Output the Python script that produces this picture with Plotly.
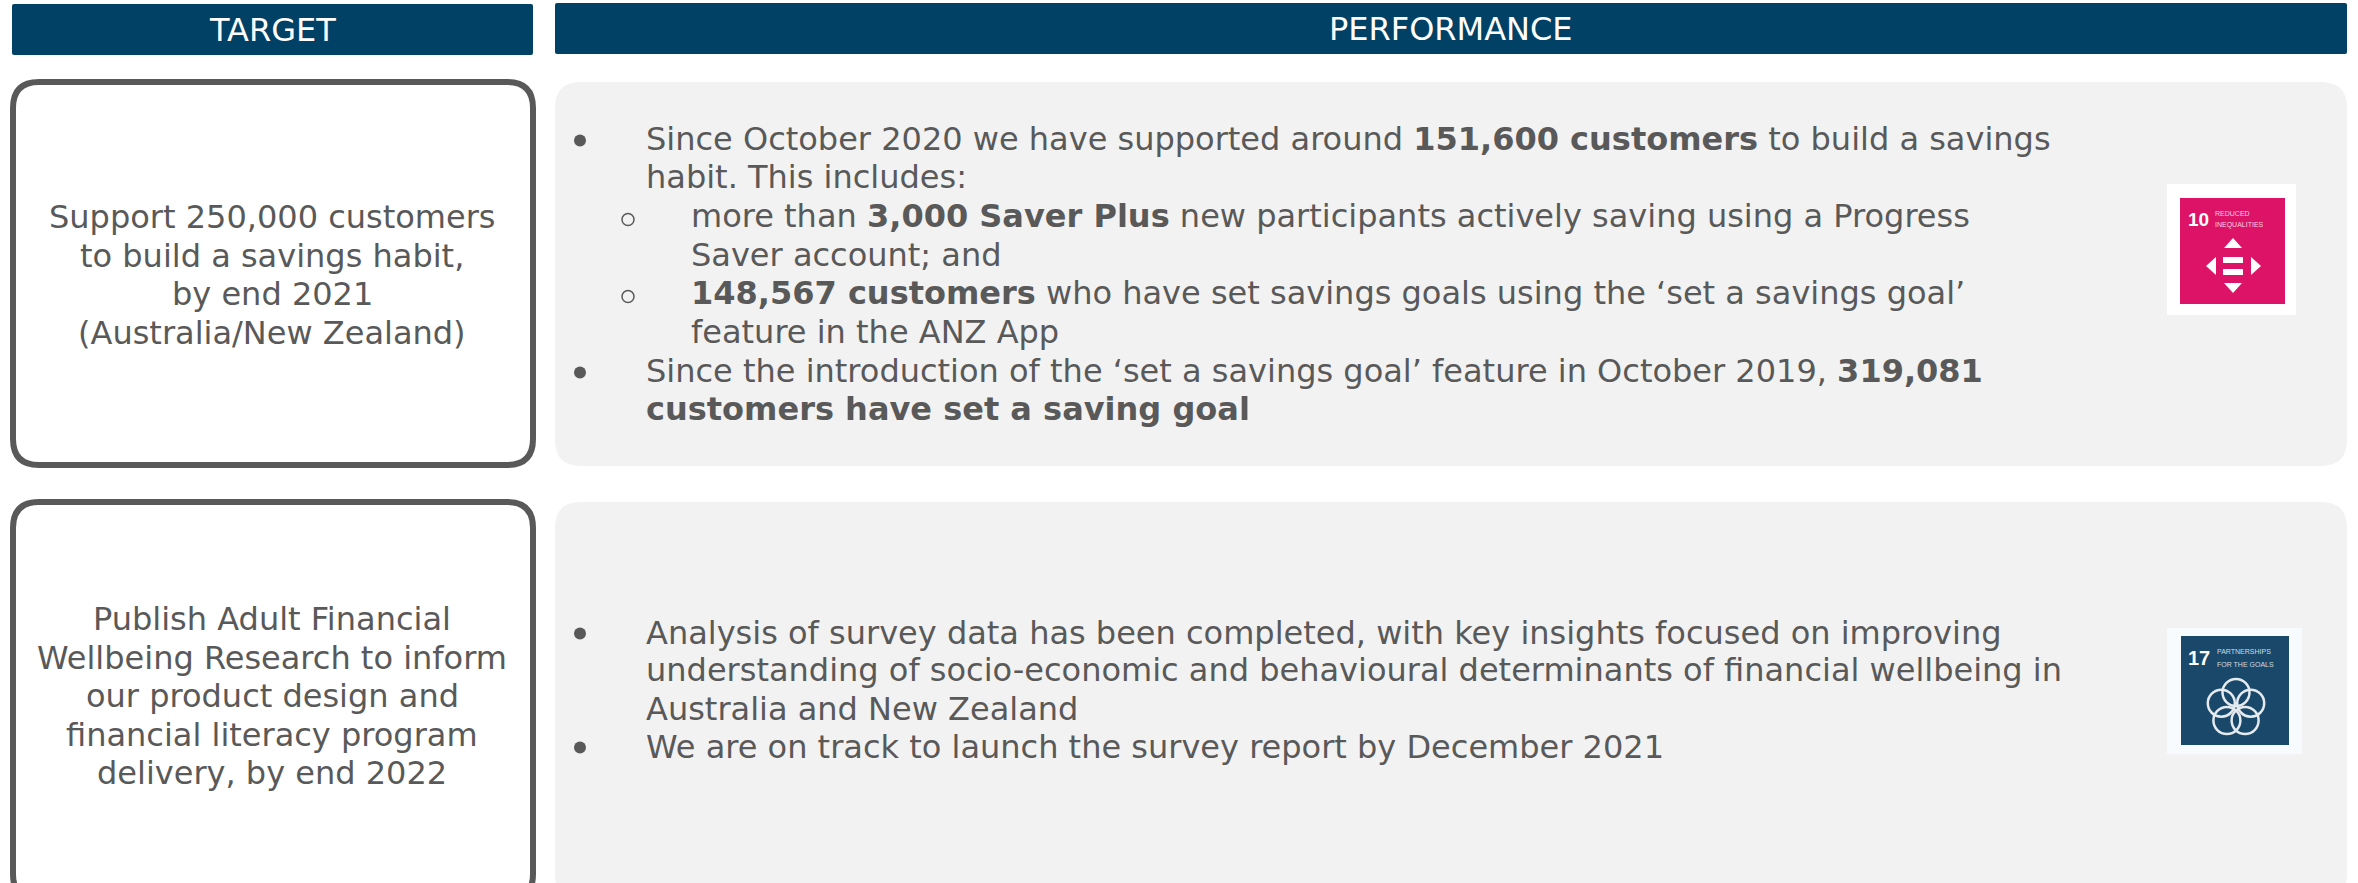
import plotly.graph_objects as go

HEADERS = ["TARGET", "PERFORMANCE"]
TARGETS = [
    ["Support 250,000 customers", "to build a savings habit,", "by end 2021", "(Australia/New Zealand)"],
    ["Publish Adult Financial", "Wellbeing Research to inform", "our product design and", "financial literacy program", "delivery, by end 2022"],
]
PERF_1 = [
    ("•", "Since October 2020 we have supported around <b>151,600 customers</b> to build a savings"),
    ("", "habit. This includes:"),
    ("o", "more than <b>3,000 Saver Plus</b> new participants actively saving using a Progress"),
    ("", "Saver account; and"),
    ("o", "<b>148,567 customers</b> who have set savings goals using the ‘set a savings goal’"),
    ("", "feature in the ANZ App"),
    ("•", "Since the introduction of the ‘set a savings goal’ feature in October 2019, <b>319,081</b>"),
    ("", "<b>customers have set a saving goal</b>"),
]
PERF_2 = [
    ("•", "Analysis of survey data has been completed, with key insights focused on improving"),
    ("", "understanding of socio-economic and behavioural determinants of financial wellbeing in"),
    ("", "Australia and New Zealand"),
    ("•", "We are on track to launch the survey report by December 2021"),
]

FONT = "DejaVu Sans"
NARROW = "Liberation Sans"
GREY = "#595959"
NAVY = "#004165"
PANEL = "#F2F2F2"
PINK = "#DD1367"
BLUE = "#19486A"


def rrect(x0, y0, x1, y1, r):
    return (f"M{x0+r},{y0} L{x1-r},{y0} Q{x1},{y0} {x1},{y0+r} L{x1},{y1-r} Q{x1},{y1} {x1-r},{y1} "
            f"L{x0+r},{y1} Q{x0},{y1} {x0},{y1-r} L{x0},{y0+r} Q{x0},{y0} {x0+r},{y0} Z")


shapes, ann = [], []


def box(x0, y0, x1, y1, fill, line=None, w=0, r=0):
    shapes.append(dict(type="path", path=rrect(x0, y0, x1, y1, r), fillcolor=fill,
                       line=dict(color=line or fill, width=w), layer="below"))


def text(x, y, s, size, color=GREY, anchor="left", family=FONT):
    ann.append(dict(x=x, y=y, text=s, showarrow=False, xanchor=anchor, yanchor="middle",
                    font=dict(family=family, size=size, color=color), align=anchor))


# Headers
box(12, 4, 533, 55, NAVY, r=2)
box(555, 3, 2347, 54, NAVY, r=2)
text(272, 30, HEADERS[0], 32, "white", "center")
text(1451, 29, HEADERS[1], 32, "white", "center")

# Target boxes and performance panels
box(13, 82, 533, 465, "white", GREY, 6, 26)
box(13, 502, 533, 900, "white", GREY, 6, 26)
box(555, 82, 2347, 466, PANEL, r=26)
box(555, 502, 2347, 900, PANEL, r=26)

for lines, y0 in ((TARGETS[0], 217), (TARGETS[1], 619)):
    for i, s in enumerate(lines):
        text(272, y0 + i * 38.5, s, 32, GREY, "center")


def perf(rows, ys, dot_dy):
    for (mark, s), y in zip(rows, ys):
        sub = s.startswith("more than") or s.startswith("<b>148") or s.startswith("Saver acc") or s.startswith("feature in")
        x = 689 if sub else 644
        text(x, y + 0.5, s, 32)
        if mark == "•":
            shapes.append(dict(type="circle", x0=574, x1=586, y0=y + dot_dy - 6, y1=y + dot_dy + 6,
                               fillcolor=GREY, line_width=0))
        elif mark == "o":
            shapes.append(dict(type="circle", x0=622, x1=634, y0=y - 1.5, y1=y + 10.5,
                               fillcolor="rgba(0,0,0,0)", line=dict(color=GREY, width=1.5)))


perf(PERF_1, [138, 176, 215, 254, 292, 331, 370, 408], 2.5)
perf(PERF_2, [632, 669, 708, 746], 1.5)

# SDG 10 icon
box(2167, 184, 2296, 315, "white")
box(2180, 198, 2285, 304, PINK)
text(2186, 219, "<b>10</b>", 19, "white", family=NARROW)
text(2213, 213, "REDUCED", 7, "#F8D0E0", family=NARROW)
text(2213, 225, "INEQUALITIES", 7, "#F8D0E0", family=NARROW)
for p in ["M2224,248 L2233,238 L2242,248 Z", "M2224,283 L2242,283 L2233,293 Z",
          "M2206,266 L2216,257 L2216,275 Z", "M2251,257 L2261,266 L2251,275 Z"]:
    shapes.append(dict(type="path", path=p, fillcolor="white", line_width=0))
for y0, y1 in ((257, 263), (269, 275)):
    shapes.append(dict(type="rect", x0=2223, x1=2243, y0=y0, y1=y1, fillcolor="white", line_width=0))

# SDG 17 icon
box(2167, 628, 2302, 754, "#F7FBFD")
box(2181, 636, 2289, 745, BLUE)
text(2186, 658, "<b>17</b>", 20, "white", family=NARROW)
text(2215, 651, "PARTNERSHIPS", 7, "#D0DCE4", family=NARROW)
text(2215, 664, "FOR THE GOALS", 7, "#D0DCE4", family=NARROW)
for cx, cy in ((2236, 692.5), (2221.3, 703.2), (2226.9, 720.5), (2245.1, 720.5), (2250.7, 703.2)):
    shapes.append(dict(type="circle", x0=cx - 13.5, x1=cx + 13.5, y0=cy - 13.5, y1=cy + 13.5,
                       fillcolor="rgba(0,0,0,0)", line=dict(color="#E4EAEE", width=2.5)))

fig = go.Figure()
fig.update_layout(
    width=2358, height=883, margin=dict(l=0, r=0, t=0, b=0),
    paper_bgcolor="white", plot_bgcolor="white", showlegend=False,
    xaxis=dict(range=[0, 2358], visible=False, fixedrange=True),
    yaxis=dict(range=[883, 0], visible=False, fixedrange=True),
    shapes=shapes, annotations=ann,
)
fig.write_html("out.html", config=dict(displayModeBar=False),
               post_script="document.body.style.margin='0';document.body.style.overflow='hidden';")
